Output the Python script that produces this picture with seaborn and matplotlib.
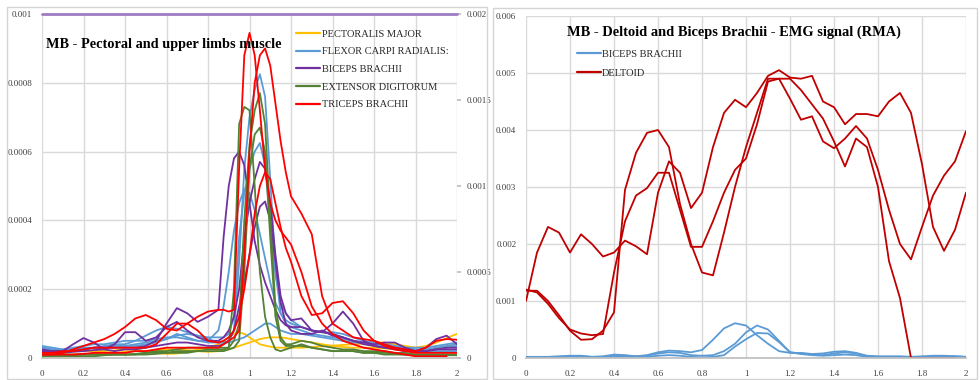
import numpy as np
import pandas as pd
import matplotlib
matplotlib.use("Agg")
import matplotlib.pyplot as plt
import seaborn as sns
from matplotlib.patches import Rectangle

sns.set_theme(style="white")
plt.rcParams["font.family"] = ["Liberation Serif", "DejaVu Serif"]

SCALE = 1e-5  # all series values below are in units of 1e-5

# ---------------- left panel data ----------------
X_LEFT = [0, .05, .1, .15, .2, .25, .3, .35, .4, .45, .5, .55, .6, .65, .7, .75, .8, .85,
          .875, .9, .925, .95, .975, 1.0, 1.025, 1.05, 1.075, 1.1, 1.125, 1.15, 1.175, 1.2,
          1.25, 1.3, 1.35, 1.4, 1.45, 1.5, 1.55, 1.6, 1.65, 1.7, 1.75, 1.8, 1.85, 1.9, 1.95, 2.0]

PEC_1 = [1.5, 1.5, 1.8, 2, 2, 2, 2, 2.2, 2.5, 2.3, 2, 1.5, 1.2, 1.3, 1.8, 2.5, 3, 4,
         5, 6, 7, 7.5, 7, 6, 5, 4, 3.6, 3.3, 3, 3, 3, 3,
         3, 3.2, 3.4, 3.6, 3.8, 4, 4.2, 4.5, 4.5, 4, 3.5, 3, 3.5, 4.5, 5.8, 7]
PEC_2 = [1, 1, 1, 1, 1.2, 1.2, 1.3, 1.5, 1.8, 2, 2, 2.2, 2.5, 2.5, 2.3, 2, 1.8, 2,
         2.3, 2.5, 3, 3.5, 4, 4.5, 5, 5.5, 5.8, 6, 6, 6, 5.8, 5.5,
         5, 4.5, 4, 3.5, 3.2, 3, 3, 3, 2.8, 2.5, 2.2, 2, 2.2, 3, 3.5, 4]

FCR_1 = [3, 2.5, 2, 2, 2.5, 3, 3, 3.5, 3.5, 4, 4.5, 5, 5.5, 6.5, 7, 6.5, 5.5, 4.5,
         4.5, 5, 8, 28, 55, 70, 78, 82.5, 76, 52, 26, 13, 10, 9,
         8, 7, 6.5, 6, 5.5, 5, 4.5, 4, 3.5, 3, 2.5, 2, 2, 2.5, 3, 3.5]
FCR_2 = [2.5, 2, 2, 2.5, 3, 3, 3.5, 4, 4, 5, 6.5, 8, 9, 8.5, 7.5, 6.5, 6, 6,
         6, 7, 12, 35, 48, 55, 60, 62.5, 56, 40, 24, 16, 13, 11,
         9, 8, 7.5, 7.5, 7, 6, 5, 4.5, 4, 3.5, 3, 2.5, 2.5, 3, 3.5, 4]
FCR_3 = [3.5, 3, 2.5, 2.5, 2.5, 3, 3, 3, 3.5, 3.5, 4, 4.5, 5.5, 7, 6, 5, 5, 8,
         15, 25, 37, 45, 49, 48, 43, 36, 29, 22, 16, 13, 11, 10,
         9, 8, 7.5, 7, 6, 5, 4.5, 4, 3.5, 3, 2.5, 2, 2, 2, 2, 2]
FCR_4 = [3, 2.5, 2.5, 3, 3.5, 4, 4, 4.5, 5, 5, 5, 5.5, 6, 6, 5.5, 5, 4.5, 4.5,
         4.5, 4.5, 5, 5.5, 6, 7, 8, 9, 10, 10, 9, 8, 7.5, 7,
         7, 6.5, 6, 5.5, 5, 4.5, 4.5, 4, 4, 3.5, 3, 3, 3, 3.5, 4, 4.5]

BB_1 = [2, 2, 2, 2, 2.5, 3, 3, 3, 3, 3, 3.5, 5, 10, 14.5, 13, 10.5, 12, 14,
        35, 50, 58, 60, 56, 45, 34, 27, 22, 18, 14, 11, 9.5, 9,
        9, 8, 7.5, 7, 6, 5, 4, 3.5, 3, 2.5, 2, 2, 2, 2.5, 3, 3]
BB_2 = [2, 1.8, 1.5, 1.8, 2, 2.3, 2.5, 4, 7.5, 7.5, 5, 6, 9, 10.5, 8, 6, 5, 5,
        6, 8, 12, 20, 35, 45, 52, 57, 55, 45, 30, 18, 13, 11,
        11.5, 8, 7.5, 10, 13.5, 10, 5, 3.5, 3, 3, 2.5, 2, 2, 2.5, 2.5, 2.5]
BB_3 = [2.5, 2, 2, 4, 5.8, 4.5, 2.5, 2, 2.5, 2.5, 3, 3.5, 4, 4.5, 4.5, 4, 3.5, 3.5,
        4, 5, 8, 15, 22, 30, 38, 44, 45.5, 40, 28, 16, 10, 8,
        7, 7, 8, 6.5, 6, 5, 4.5, 4, 4.5, 4.5, 3, 2, 3, 5.5, 6.5, 4]

ED_1 = [1, 1, 1, 1, 1, 1, 1, 1, 1, 1.2, 1.5, 1.5, 1.5, 2, 2, 2, 2.5, 2.5,
        2.5, 3, 20, 68, 73, 72, 50, 25, 12, 6, 2.5, 2, 2.5, 3,
        4, 3, 2.5, 2, 2, 2, 1.5, 1.5, 1.5, 1.2, 1, 1, 1, 1, 1, 1]
ED_2 = [0.5, 0.5, 0.5, 0.8, 1, 1, 1, 1, 1, 1, 1.5, 2, 2, 2.5, 3, 3, 3, 3,
        3, 3, 5, 10, 40, 62, 72, 77, 68, 40, 15, 6, 4, 4,
        5, 4.5, 3.5, 3, 2.5, 2.5, 2, 2, 2, 1.5, 1.5, 1, 1, 1, 1, 1]
ED_3 = [0.5, 0.5, 0.5, 0.5, 0.5, 0.5, 0.8, 1, 1, 1, 1, 1.2, 1.5, 1.5, 1.5, 2, 2, 2,
        2, 2.5, 3, 5, 25, 55, 65, 67, 60, 35, 12, 5, 3.5, 3.5,
        3.5, 3, 2.5, 2, 2, 2, 1.5, 1.5, 1, 1, 1, 0.8, 0.8, 0.8, 0.8, 0.8]

TB_1 = [1, 1, 1.5, 2.5, 3.5, 4.5, 5.5, 7, 9, 11.5, 12.5, 11, 8.5, 8, 10, 12, 13.5, 14,
        14, 13.5, 14, 55, 88, 94.5, 88, 72, 55, 45, 40, 37, 35, 33,
        25, 15, 10, 7, 5, 4, 3, 2.5, 2, 1.5, 1, 0.5, 0.5, 0.5, 0.5, np.nan]
TB_2 = [1, 1, 1, 1, 1.2, 1.5, 1.5, 1.5, 1.5, 2, 2, 2.5, 3, 3, 3, 3, 3, 3,
        4, 5, 6, 8, 30, 60, 80, 88, 90, 85, 74, 63, 54, 47,
        42, 36, 18, 10, 8, 6, 5.5, 5, 4, 3, 2.5, 2, 3, 5, 5.5, 5.3]
TB_3 = [1.5, 1.5, 2, 2, 2.5, 3, 3, 3, 3, 3, 3, 4, 7, 10, 10, 8, 5, 4.5,
        5, 6, 8, 12, 20, 30, 42, 50, 54, 52, 45, 38, 32, 28,
        18, 12.5, 13, 16, 16.5, 13, 8, 5, 3.5, 2.5, 2, 1.5, 1.5, 1.5, 1.5, 1.5]

LEFT_SERIES = {
    "PECTORALIS MAJOR": [PEC_1, PEC_2],
    "FLEXOR CARPI RADIALIS:": [FCR_1, FCR_2, FCR_3, FCR_4],
    "BICEPS BRACHII": [BB_1, BB_2, BB_3],
    "EXTENSOR DIGITORUM": [ED_1, ED_2, ED_3],
    "TRICEPS BRACHII": [TB_1, TB_2, TB_3],
}
LEFT_COLORS = ["#FFC000", "#5B9BD5", "#7030A0", "#548235", "#FF0000"]

# biceps series plotted on the secondary axis (sits at its maximum)
BB_SEC_X = [0, 2]
BB_SEC_Y = [200, 200]

# ---------------- right panel data ----------------
X_RIGHT = [0, .05, .1, .15, .2, .25, .3, .35, .4, .45, .5, .55, .6, .65, .7, .75, .8, .85, .9, .95,
           1.0, 1.05, 1.1, 1.15, 1.2, 1.25, 1.3, 1.35, 1.4, 1.45, 1.5, 1.55, 1.6, 1.65, 1.7, 1.75,
           1.8, 1.85, 1.9, 1.95, 2.0]
DEL_1 = [100, 185, 230, 220, 185, 217, 200, 178, 185, 206, 196, 182, 290, 345, 325, 263, 290, 370, 430, 453,
         440, 465, 495, 505, 492, 490, 495, 450, 440, 410, 428, 428, 424, 450, 465, 430,
         340, 230, 188, 225, 290]
DEL_2 = [118, 118, 100, 75, 48, 32, 33, 48, 80, 295, 360, 395, 400, 370, 270, 200, 150, 145, 220, 300,
         370, 430, 490, 490, 455, 418, 424, 380, 368, 385, 407, 385, 330, 260, 200, 173,
         230, 285, 320, 345, 398]
DEL_3 = [120, 115, 95, 70, 50, 43, 40, 42, 150, 240, 285, 298, 325, 325, 260, 195, 195, 240, 290, 330,
         350, 410, 485, 490, 490, 470, 445, 420, 380, 336, 385, 370, 300, 170, 105, 0,
         0, 0, 0, 0, np.nan]
RB_1 = [2, 2, 2, 3, 4, 4, 2, 3, 6, 5, 3, 5, 10, 13, 12, 10, 14, 32, 52, 61,
        57, 40, 25, 12, 9, 9, 7, 8, 11, 12, 9, 4, 3, 3, 3, 2, 2, 2, 3, 3, 2]
RB_2 = [1, 1, 1, 2, 3, 3, 2, 2, 4, 4, 3, 4, 8, 10, 9, 5, 4, 5, 12, 25,
        45, 57, 50, 30, 10, 8, 6, 5, 8, 10, 8, 3, 2, 2, 2, 2, 3, 4, 4, 3, 2]
RB_3 = [1, 1, 1, 1, 2, 2, 1, 1, 2, 2, 1, 2, 4, 5, 4, 2, 1, 2, 5, 20,
        33, 44, 43, 28, 10, 7, 5, 4, 5, 6, 5, 2, 1, 1, 1, 1, 1, 1, 1, 1, 1]
RIGHT_SERIES = {"BICEPS BRACHII": [RB_1, RB_2, RB_3], "DELTOID": [DEL_1, DEL_2, DEL_3]}
RIGHT_COLORS = ["#5B9BD5", "#C00000"]

X_TICKS = [0, 0.2, 0.4, 0.6, 0.8, 1.0, 1.2, 1.4, 1.6, 1.8, 2.0]
X_TICK_LABELS = ["0", "0.2", "0.4", "0.6", "0.8", "1", "1.2", "1.4", "1.6", "1.8", "2"]
L_YTICKS = [0, 0.0002, 0.0004, 0.0006, 0.0008, 0.001]
L_YLABELS = ["0", "0.0002", "0.0004", "0.0006", "0.0008", "0.001"]
L2_YTICKS = [0, 0.0005, 0.001, 0.0015, 0.002]
L2_YLABELS = ["0", "0.0005", "0.001", "0.0015", "0.002"]
R_YTICKS = [0, 0.001, 0.002, 0.003, 0.004, 0.005, 0.006]
R_YLABELS = ["0", "0.001", "0.002", "0.003", "0.004", "0.005", "0.006"]


def long_df(x, series):
    rows = []
    for name, curves in series.items():
        for k, c in enumerate(curves):
            for xi, yi in zip(x, c):
                rows.append((name, k, xi, yi * SCALE))
    return pd.DataFrame(rows, columns=["muscle", "trial", "x", "y"])


GRID = "#D9D9D9"
TXT = "#404040"
TICK_FS = 6.5
fig = plt.figure(figsize=(9.8, 3.8), dpi=100)
fig.patch.set_facecolor("white")
fig.patches.append(Rectangle((7 / 980, 1 / 380), 480 / 980, 372 / 380, transform=fig.transFigure,
                             fill=False, edgecolor="#D4D4D4", lw=1))
fig.patches.append(Rectangle((493 / 980, 1 / 380), 484 / 980, 371 / 380, transform=fig.transFigure,
                             fill=False, edgecolor="#D4D4D4", lw=1))

ax1 = fig.add_axes([42 / 980, 22 / 380, 415 / 980, 344 / 380])
ax2 = fig.add_axes([526 / 980, 22 / 380, 440 / 980, 342 / 380])


def style(ax, yticks, ylabels, ylim):
    ax.set_xlim(0, 2)
    ax.set_ylim(*ylim)
    ax.set_xticks(X_TICKS)
    ax.set_xticklabels(X_TICK_LABELS)
    ax.set_yticks(yticks)
    ax.set_yticklabels(ylabels)
    ax.grid(True, color=GRID, lw=1)
    ax.set_axisbelow(True)
    for s in ["top", "right", "left"]:
        ax.spines[s].set_visible(False)
    ax.spines["bottom"].set_color("#BFBFBF")
    ax.tick_params(axis="both", length=0, labelsize=TICK_FS, labelcolor=TXT)
    ax.tick_params(axis="x", pad=9)
    ax.tick_params(axis="y", pad=7)
    ax.set_xlabel("")
    ax.set_ylabel("")


# left panel
dfl = long_df(X_LEFT, LEFT_SERIES)
sns.lineplot(data=dfl, x="x", y="y", hue="muscle", units="trial", estimator=None,
             hue_order=list(LEFT_SERIES), palette=LEFT_COLORS, lw=1.3, sort=False, ax=ax1)
style(ax1, L_YTICKS, L_YLABELS, (0, 0.001))
sns.move_legend(ax1, "upper left", bbox_to_anchor=(0.612, 0.955), frameon=False, title=None,
                fontsize=7.5, handlelength=2.3, handletextpad=0.15, labelspacing=0.8,
                borderaxespad=0, borderpad=0)
for h in ax1.get_legend().legend_handles:
    h.set_linewidth(1.6)

ax1b = ax1.twinx()
dfs = pd.DataFrame({"x": BB_SEC_X, "y": [v * SCALE for v in BB_SEC_Y]})
sns.lineplot(data=dfs, x="x", y="y", color="#9E7BC4", lw=2, ax=ax1b, clip_on=False)
ax1b.set_ylim(0, 0.002)
ax1b.set_yticks(L2_YTICKS)
ax1b.set_yticklabels(L2_YLABELS)
ax1b.set_ylabel("")
for s in ax1b.spines.values():
    s.set_visible(False)
ax1b.tick_params(axis="y", length=3, color="#BFBFBF", labelsize=TICK_FS, labelcolor=TXT, pad=4)
ax1.text(0.01, 0.912, "MB - Pectoral and upper limbs muscle", transform=ax1.transAxes,
         fontsize=10.3, fontweight="bold", va="center", ha="left", color="black")

# right panel
dfr = long_df(X_RIGHT, RIGHT_SERIES)
sns.lineplot(data=dfr, x="x", y="y", hue="muscle", units="trial", estimator=None,
             hue_order=list(RIGHT_SERIES), palette=RIGHT_COLORS, lw=1.3, sort=False, ax=ax2)
style(ax2, R_YTICKS, R_YLABELS, (0, 0.006))
sns.move_legend(ax2, "upper left", bbox_to_anchor=(0.115, 0.902), frameon=False, title=None,
                fontsize=7.5, handlelength=2.3, handletextpad=0.1, labelspacing=0.95,
                borderaxespad=0, borderpad=0)
for h in ax2.get_legend().legend_handles:
    h.set_linewidth(1.6)
ax2.text(0.473, 0.953, "MB - Deltoid and Biceps Brachii - EMG signal (RMA)", transform=ax2.transAxes,
         fontsize=10.4, fontweight="bold", va="center", ha="center", color="black")

fig.savefig("out.png", dpi=100, facecolor="white")
